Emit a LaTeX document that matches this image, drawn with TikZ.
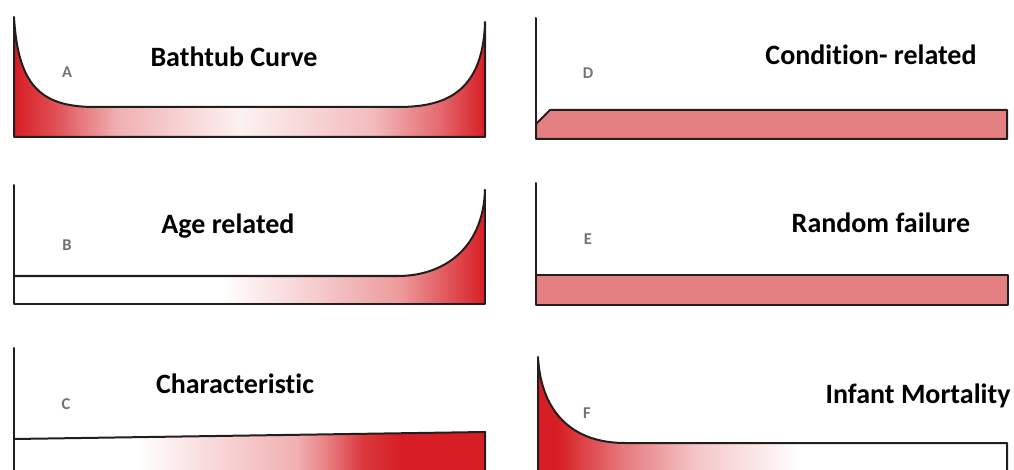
\documentclass[tikz,border=0pt]{standalone}
\usepackage{fontspec}
\setmainfont{Carlito}[Ligatures=NoCommon]
\usepackage{tikz}
\usetikzlibrary{positioning}
\definecolor{hiba}{RGB}{214,30,36}
\definecolor{halvany}{RGB}{229,128,130}
\definecolor{vonal}{RGB}{35,30,30}
% szinatmenetek (25bp..75bp = a kitoltott terulet szelessege)
\pgfdeclarehorizontalshading{kadatmenet}{100bp}{color(0bp)=(hiba); color(25bp)=(hiba);
  color(29bp)=(hiba!80); color(36bp)=(hiba!35); color(49bp)=(hiba!6); color(63bp)=(hiba!30);
  color(70bp)=(hiba!65); color(75bp)=(hiba); color(100bp)=(hiba)}
\pgfdeclarehorizontalshading{oregatmenet}{100bp}{color(0bp)=(white); color(47bp)=(white);
  color(58bp)=(hiba!25); color(66bp)=(hiba!45); color(71bp)=(hiba!75); color(75bp)=(hiba);
  color(100bp)=(hiba)}
\pgfdeclarehorizontalshading{jellegatmenet}{100bp}{color(0bp)=(white); color(38bp)=(white);
  color(45bp)=(hiba!15); color(55bp)=(hiba!35); color(58bp)=(hiba!55); color(62bp)=(hiba!88);
  color(66bp)=(hiba); color(100bp)=(hiba)}
\pgfdeclarehorizontalshading{csecsoatmenet}{100bp}{color(0bp)=(hiba); color(27bp)=(hiba);
  color(34bp)=(hiba!60); color(42bp)=(hiba!25); color(53bp)=(white); color(100bp)=(white)}
\tikzset{
  cim/.style={anchor=base,font=\fontsize{28}{32}\selectfont\bfseries,text=black,inner sep=0pt},
  betu/.style={anchor=base,font=\fontsize{16.5}{18}\selectfont\bfseries,text=black!55,inner sep=0pt},
  tengely/.style={draw=vonal,line width=2pt,line join=round,line cap=round},
  sav/.style={fill=halvany,draw=vonal,line width=2pt,line join=round},
}

\begin{document}
\begin{tikzpicture}[x=1pt,y=-1pt]
  \useasboundingbox (0,0) rectangle (1014,470);
  \clip (0,0) rectangle (1014,470);
  % A. kadgorbe
  \shadedraw[shading=kadatmenet,tengely] (14,17) .. controls (18,85) and (40,107) .. (95,107)
    -- (398,107) .. controls (442,107) and (483,95) .. (485,22) -- (485,137) -- (14,137) -- cycle;
  \node[cim] (tA) at (234,67) {Bathtub Curve};
  \node[betu] (lA) at (67,78) {A};
  % B. korfuggo
  \shade[shading=oregatmenet] (14,276) -- (398,276) .. controls (442,276) and (483,250) .. (485,190)
    -- (485,304) -- (14,304) -- cycle;
  \draw[tengely] (14,185) -- (14,304) -- (485,304) -- (485,190);
  \draw[tengely] (14,276) -- (398,276) .. controls (442,276) and (483,250) .. (485,190);
  \node[cim] (tB) at (228,234) {Age related};
  \node[betu] (lB) at (67,251) {B};
  % C. jellegzetes
  \shade[shading=jellegatmenet] (14,439) -- (485,432) -- (485,480) -- (14,480) -- cycle;
  \draw[tengely] (14,348) -- (14,480);
  \draw[tengely] (14,439) -- (485,432) -- (485,480);
  \node[cim] (tC) at (235,393) {Characteristic};
  \node[betu] (lC) at (66,409) {C};
  % D. allapotfuggo
  \draw[tengely] (536,18) -- (536,124);
  \draw[sav] (536,124) -- (550,110) -- (1007,110) -- (1007,139) -- (536,139) -- cycle;
  \node[cim] (tD) at (871,65) {Condition- related};
  \node[betu] (lD) at (588,79) {D};
  % E. veletlen
  \draw[tengely] (536,183) -- (536,275);
  \draw[sav] (536,275) rectangle (1008,305);
  \node[cim] (tE) at (881,233) {Random failure};
  \node[betu] (lE) at (588,245) {E};
  % F. csecsemokori
  \shade[shading=csecsoatmenet] (538,357) .. controls (541,412) and (572,443) .. (625,443)
    -- (1007,443) -- (1007,480) -- (538,480) -- cycle;
  \draw[tengely] (538,480) -- (538,357) .. controls (541,412) and (572,443) .. (625,443)
    -- (1007,443) -- (1007,480);
  \node[cim] (tF) at (918,403) {Infant Mortality};
  \node[betu] (lF) at (587,418) {F};
\end{tikzpicture}
\end{document}
